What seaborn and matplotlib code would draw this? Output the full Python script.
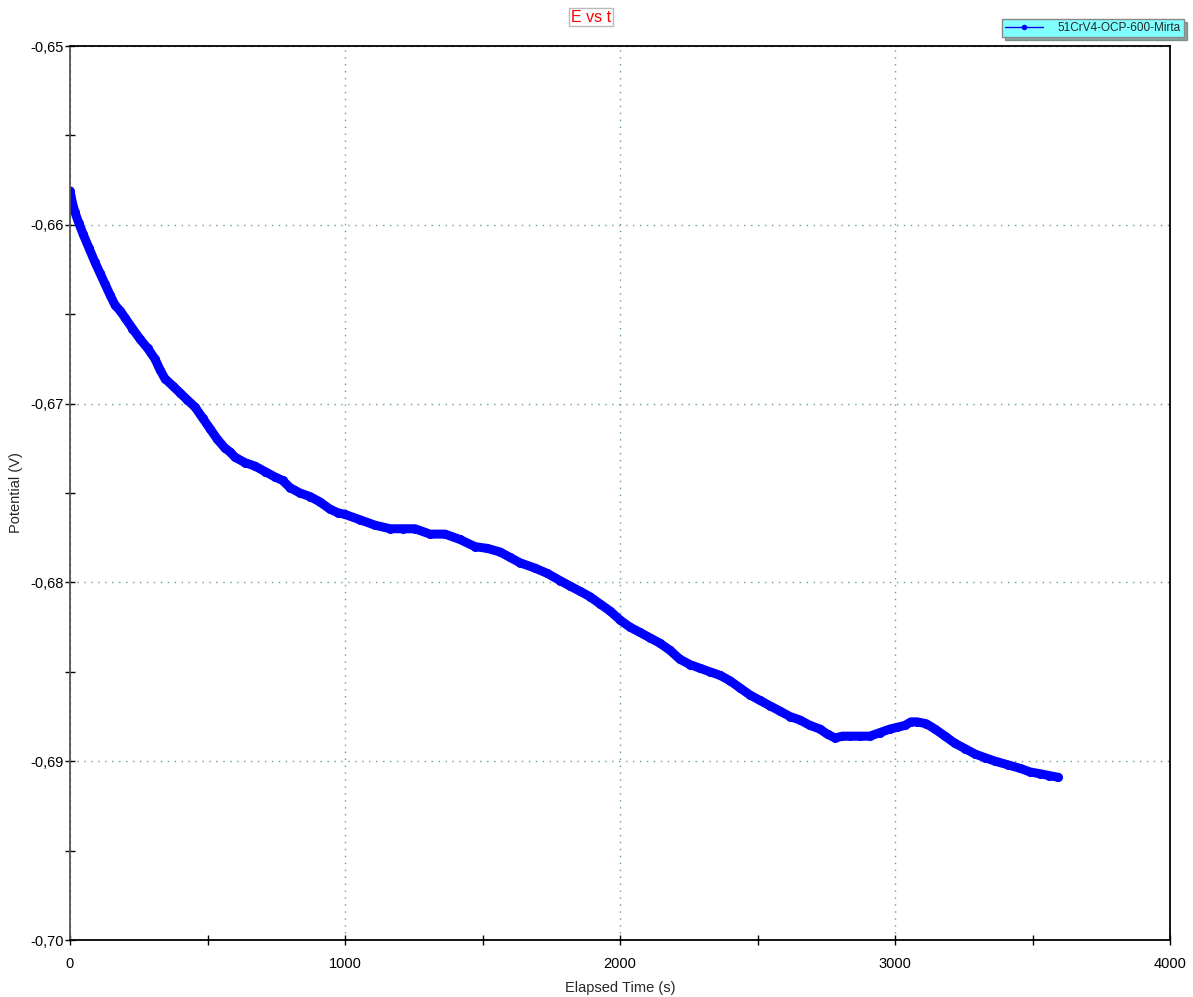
import matplotlib
matplotlib.use("Agg")
import matplotlib.pyplot as plt
from matplotlib.ticker import MultipleLocator, FuncFormatter
import seaborn as sns
import pandas as pd

# E vs t readings
time_s = [0, 9, 18, 32, 47, 69, 91, 109, 127, 145, 164, 182, 200, 227, 255, 282,
          309, 327, 345, 373, 400, 427, 455, 482, 509, 536, 564, 582, 600, 636,
          673, 709, 745, 773, 800, 836, 873, 909, 945, 973, 1000, 1055, 1109,
          1164, 1210, 1255, 1309, 1364, 1418, 1473, 1518, 1564, 1600, 1636, 1691,
          1736, 1782, 1818, 1855, 1891, 1927, 1964, 2000, 2036, 2073, 2109, 2145,
          2182, 2218, 2255, 2291, 2327, 2364, 2400, 2436, 2473, 2509, 2545, 2582,
          2618, 2655, 2691, 2727, 2755, 2782, 2809, 2836, 2873, 2909, 2945, 2982,
          3009, 3036, 3058, 3080, 3113, 3145, 3182, 3218, 3255, 3291, 3327, 3364,
          3410, 3455, 3491, 3527, 3560, 3593]
potential_v = [-0.6581, -0.6588, -0.6593, -0.6599, -0.6605, -0.6613, -0.6621,
               -0.6627, -0.6633, -0.6639, -0.6645, -0.6648, -0.6652, -0.6658,
               -0.6664, -0.6669, -0.6675, -0.6681, -0.6686, -0.6690, -0.6694,
               -0.6698, -0.6702, -0.6708, -0.6714, -0.6720, -0.6725, -0.6727,
               -0.6730, -0.6733, -0.6735, -0.6738, -0.6741, -0.6743, -0.6747,
               -0.6750, -0.6752, -0.6755, -0.6759, -0.6761, -0.6762, -0.6765,
               -0.6768, -0.6770, -0.6770, -0.6770, -0.6773, -0.6773, -0.6776,
               -0.6780, -0.6781, -0.6783, -0.6786, -0.6789, -0.6792, -0.6795,
               -0.6799, -0.6802, -0.6805, -0.6808, -0.6812, -0.6816, -0.6821,
               -0.6825, -0.6828, -0.6831, -0.6834, -0.6838, -0.6843, -0.6846,
               -0.6848, -0.6850, -0.6852, -0.6855, -0.6859, -0.6863, -0.6866,
               -0.6869, -0.6872, -0.6875, -0.6877, -0.6880, -0.6882, -0.6885,
               -0.6887, -0.6886, -0.6886, -0.6886, -0.6886, -0.6884, -0.6882,
               -0.6881, -0.6880, -0.6878, -0.6878, -0.6879, -0.6882, -0.6886,
               -0.6890, -0.6893, -0.6896, -0.6898, -0.6900, -0.6902, -0.6904,
               -0.6906, -0.6907, -0.6908, -0.6909]
series_name = "51CrV4-OCP-600-Mirta"

df = pd.DataFrame({"t": time_s, "E": potential_v})

sns.set_style("white")
plt.rcParams["font.family"] = ["Liberation Sans", "DejaVu Sans"]

fig = plt.figure(figsize=(11.93, 9.97), dpi=100)
ax = fig.add_axes([70/1193, 57/997, 1100/1193, 894/997])

sns.lineplot(data=df, x="t", y="E", ax=ax, color="#0000ff", linewidth=6.5,
             marker="o", markersize=6.5, markeredgewidth=0, label=series_name,
             solid_joinstyle="round", solid_capstyle="round")

ax.set_xlim(0, 4000)
ax.set_ylim(-0.70, -0.65)
ax.xaxis.set_major_locator(MultipleLocator(1000))
ax.xaxis.set_minor_locator(MultipleLocator(500))
ax.yaxis.set_major_locator(MultipleLocator(0.01))
ax.yaxis.set_minor_locator(MultipleLocator(0.005))
ax.yaxis.set_major_formatter(FuncFormatter(lambda v, p: f"{v:.2f}".replace(".", ",")))
ax.tick_params(which="both", direction="inout", length=7, width=1, colors="black",
               labelsize=10.5, bottom=True, left=True)
ax.tick_params(axis="x", pad=9)
ax.tick_params(axis="y", pad=1)
ax.tick_params(which="minor", length=7)

ax.grid(True, which="major", color="#6a9a9a", linestyle=(0, (1, 4)), linewidth=1)
# no grid line on top of the frame
for gl in [ax.get_xgridlines()[0], ax.get_xgridlines()[-1],
           ax.get_ygridlines()[0], ax.get_ygridlines()[-1]]:
    gl.set_visible(False)

for side in ["top", "right", "bottom"]:
    ax.spines[side].set_color("black")
ax.spines["left"].set_color("#555555")
for s in ax.spines.values():
    s.set_linewidth(1.3)

ax.set_xlabel("Elapsed Time (s)", fontsize=10.5, labelpad=7)
ax.set_ylabel("Potential (V)", fontsize=10.5)
ax.yaxis.set_label_coords(-47/1100, 0.5)

fig.text(591/1193, 1 - 17/997, "E vs t", color="red", fontsize=11.5,
         ha="center", va="center",
         bbox=dict(facecolor="white", edgecolor="#bbbbbb", boxstyle="square,pad=0.12"))

leg = ax.legend(loc="upper right", bbox_to_anchor=(1184/1193, 1 - 19/997),
                bbox_transform=fig.transFigure, frameon=True, fancybox=False,
                shadow=True, facecolor="#80ffff", edgecolor="#888888",
                fontsize=8.5, handlelength=3.2, borderpad=0.25, handletextpad=1.3,
                borderaxespad=0)
for h in leg.get_lines():
    h.set_linewidth(1)
    h.set_markersize(4)

fig.savefig("out.png", dpi=100)
